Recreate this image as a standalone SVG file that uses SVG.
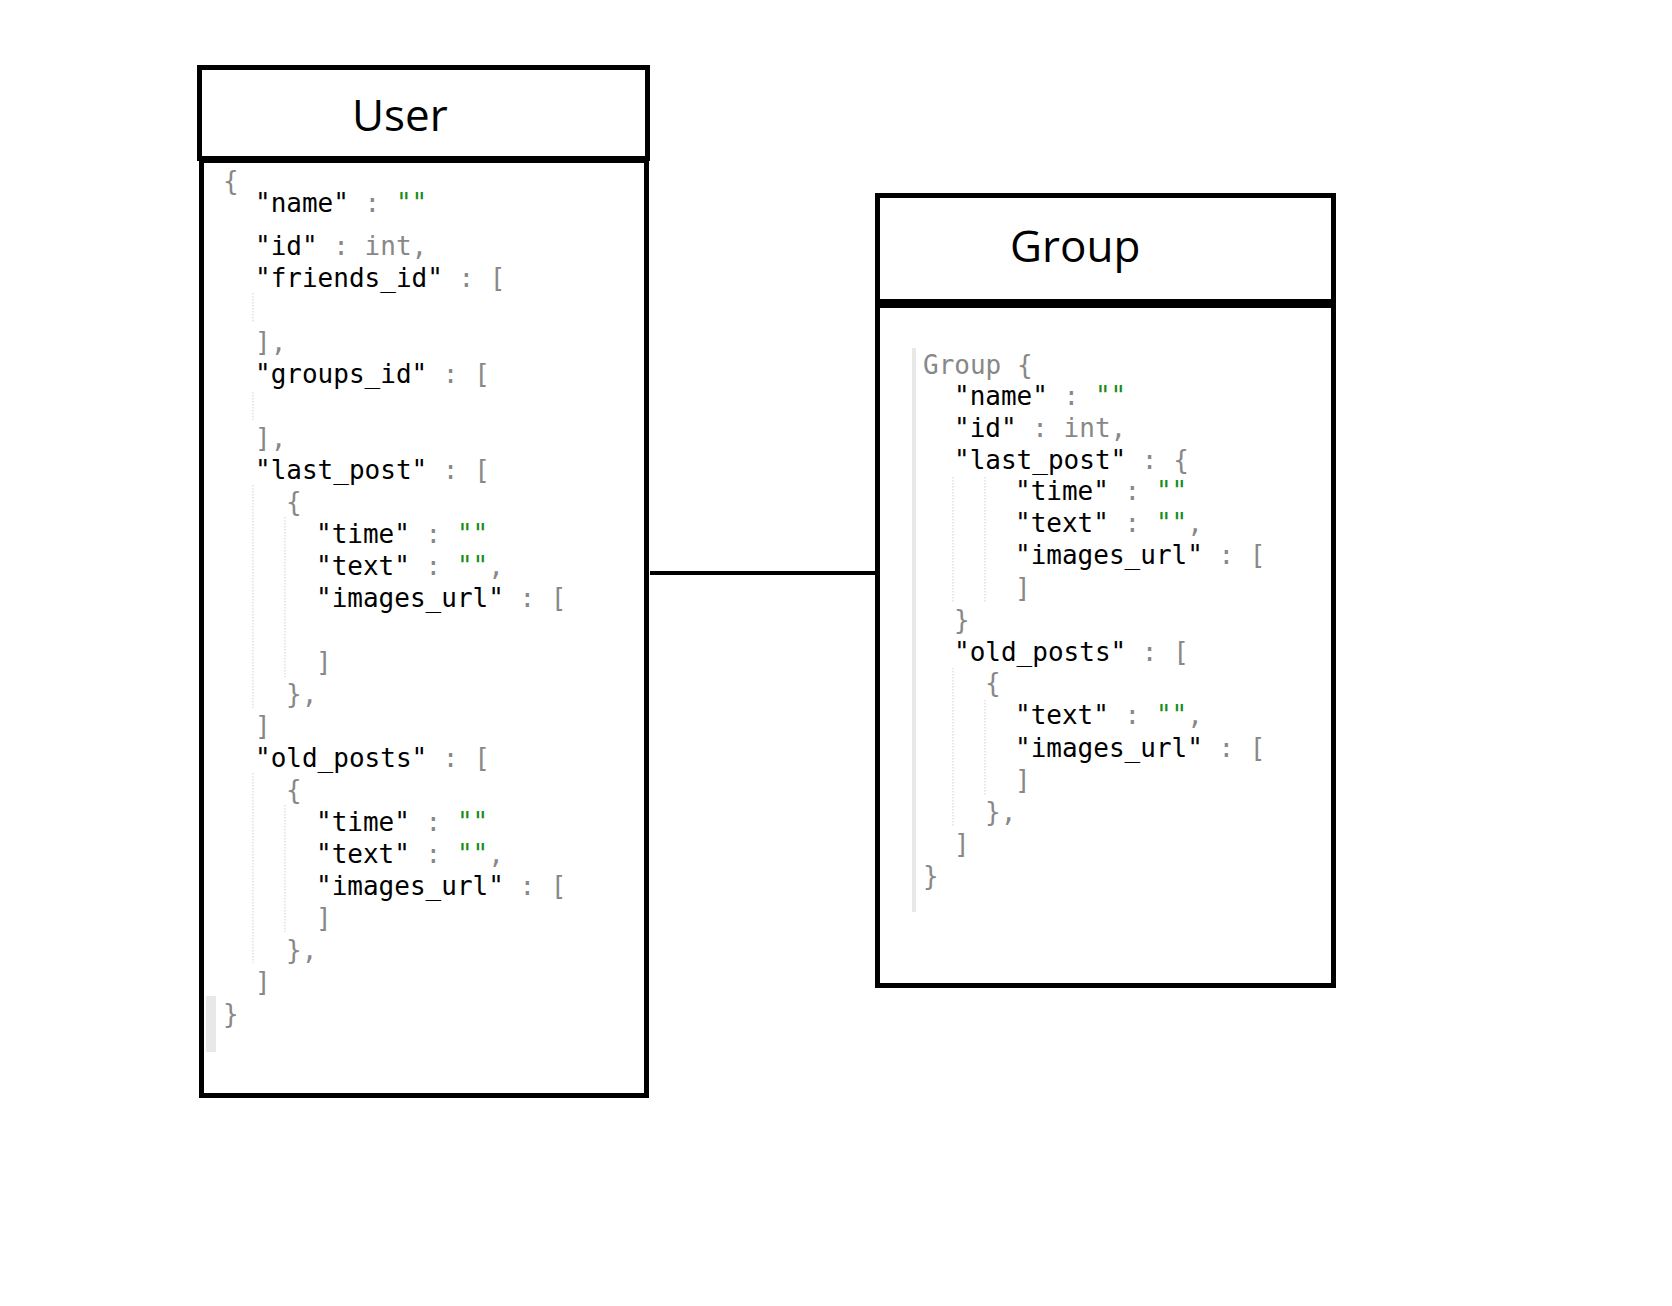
<svg xmlns="http://www.w3.org/2000/svg" width="1672" height="1306" viewBox="0 0 1672 1306">
<style>
.box{fill:none;stroke:#000;stroke-width:5}
.title{font-family:"Open Sans","Liberation Sans",sans-serif;font-size:44px;fill:#000}
.c{font-family:"DejaVu Sans Mono","Liberation Mono",monospace;font-size:26px;fill:#000;white-space:pre}
.p{fill:#888}
.s{fill:#1a8c1a}
.g{stroke:#d8d8d8;stroke-width:1.2;stroke-dasharray:1.5 1.5}
.bar{fill:#e8e8e8}
</style>
<rect width="1672" height="1306" fill="#fff"/>
<g id="connectors">
<line x1="650" y1="573" x2="876" y2="573" stroke="#000" stroke-width="4"/>
</g>
<g id="user">
<rect class="box" x="199.5" y="67.5" width="448" height="91"/>
<rect class="box" x="201.5" y="160.5" width="445" height="935"/>
<text class="title" x="352" y="131">User</text>
<rect class="bar" x="206" y="996" width="10" height="56"/>
<line class="g" x1="253" y1="293" x2="253" y2="323"/>
<line class="g" x1="253" y1="392" x2="253" y2="420"/>
<line class="g" x1="253" y1="485" x2="253" y2="708"/>
<line class="g" x1="285" y1="517" x2="285" y2="677"/>
<line class="g" x1="253" y1="773" x2="253" y2="963"/>
<line class="g" x1="285" y1="805" x2="285" y2="932"/>
<g xml:space="preserve">
<text class="c p" x="223" y="190">{</text>
<text class="c" x="255" y="212">"name" <tspan class="p">:</tspan> <tspan class="s">""</tspan></text>
<text class="c" x="255" y="255">"id" <tspan class="p">: int,</tspan></text>
<text class="c" x="255" y="287">"friends_id" <tspan class="p">: [</tspan></text>
<text class="c p" x="255" y="351">],</text>
<text class="c" x="255" y="383">"groups_id" <tspan class="p">: [</tspan></text>
<text class="c p" x="255" y="447">],</text>
<text class="c" x="255" y="479">"last_post" <tspan class="p">: [</tspan></text>
<text class="c p" x="286" y="511">{</text>
<text class="c" x="316" y="543">"time" <tspan class="p">:</tspan> <tspan class="s">""</tspan></text>
<text class="c" x="316" y="575">"text" <tspan class="p">:</tspan> <tspan class="s">""</tspan><tspan class="p">,</tspan></text>
<text class="c" x="316" y="607">"images_url" <tspan class="p">: [</tspan></text>
<text class="c p" x="316" y="671">]</text>
<text class="c p" x="286" y="703">},</text>
<text class="c p" x="255" y="735">]</text>
<text class="c" x="255" y="767">"old_posts" <tspan class="p">: [</tspan></text>
<text class="c p" x="286" y="799">{</text>
<text class="c" x="316" y="831">"time" <tspan class="p">:</tspan> <tspan class="s">""</tspan></text>
<text class="c" x="316" y="863">"text" <tspan class="p">:</tspan> <tspan class="s">""</tspan><tspan class="p">,</tspan></text>
<text class="c" x="316" y="895">"images_url" <tspan class="p">: [</tspan></text>
<text class="c p" x="316" y="927">]</text>
<text class="c p" x="286" y="959">},</text>
<text class="c p" x="255" y="991">]</text>
<text class="c p" x="223" y="1023">}</text>
</g>
</g>
<g id="group">
<rect class="box" x="877.5" y="195.5" width="456" height="106"/>
<rect class="box" x="877.5" y="305.5" width="456" height="680"/>
<text class="title" x="1010" y="262">Group</text>
<rect class="bar" x="912" y="348" width="4" height="564"/>
<line class="g" x1="953" y1="477" x2="953" y2="603"/>
<line class="g" x1="985" y1="477" x2="985" y2="603"/>
<line class="g" x1="953" y1="668" x2="953" y2="827"/>
<line class="g" x1="985" y1="700" x2="985" y2="795"/>
<g xml:space="preserve">
<text class="c p" x="923" y="374">Group {</text>
<text class="c" x="954" y="405">"name" <tspan class="p">:</tspan> <tspan class="s">""</tspan></text>
<text class="c" x="954" y="437">"id" <tspan class="p">: int,</tspan></text>
<text class="c" x="954" y="469">"last_post" <tspan class="p">: {</tspan></text>
<text class="c" x="1015" y="500">"time" <tspan class="p">:</tspan> <tspan class="s">""</tspan></text>
<text class="c" x="1015" y="532">"text" <tspan class="p">:</tspan> <tspan class="s">""</tspan><tspan class="p">,</tspan></text>
<text class="c" x="1015" y="564">"images_url" <tspan class="p">: [</tspan></text>
<text class="c p" x="1015" y="597">]</text>
<text class="c p" x="954" y="629">}</text>
<text class="c" x="954" y="661">"old_posts" <tspan class="p">: [</tspan></text>
<text class="c p" x="985" y="692">{</text>
<text class="c" x="1015" y="724">"text" <tspan class="p">:</tspan> <tspan class="s">""</tspan><tspan class="p">,</tspan></text>
<text class="c" x="1015" y="757">"images_url" <tspan class="p">: [</tspan></text>
<text class="c p" x="1015" y="789">]</text>
<text class="c p" x="985" y="821">},</text>
<text class="c p" x="954" y="853">]</text>
<text class="c p" x="923" y="885">}</text>
</g>
</g>
</svg>
